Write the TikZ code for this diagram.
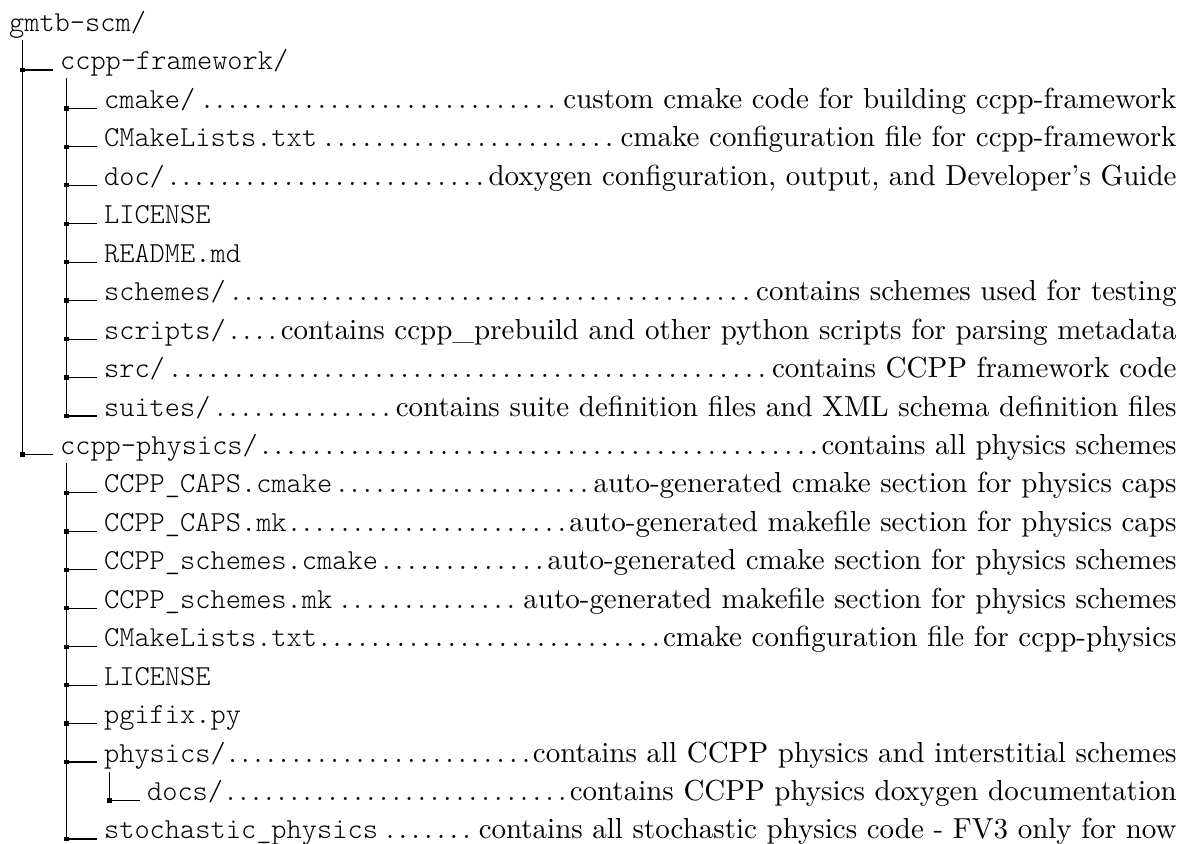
\documentclass[tikz,border=0pt]{standalone}
\usepackage{fontspec}
\setmonofont{lmmonolt10-regular.otf}
\usepackage{tikz}
\usetikzlibrary{calc}

\begin{document}
\begin{tikzpicture}[x=0.345pt,y=-0.345pt,
  branch/.style={line width=0.4pt,shorten >=2.4pt},
  stem/.style={line width=0.4pt},
  jdot/.style={rectangle,fill,inner sep=0pt,minimum size=1.5pt},
  entry/.style={anchor=base west,inner sep=0pt,text width=#1},
  item/.style={anchor=base west,inner sep=0pt,font=\ttfamily}]
  \useasboundingbox (0,0) rectangle (1180,843);
  % Root folder
  \node[item] (root) at (8.5,31.5) {gmtb-scm/};
  \coordinate (root-top) at (22.5,40);
  % ccpp-framework
  \node[item] (fw) at (59.5,69.95) {ccpp-framework/};
  \node[jdot] (j-fw) at ($(fw.base west)+(-37,0)$) {};
  \draw[branch] (j-fw.center) -- (fw.base west);
  \coordinate (fw-top) at (66.5,78);
  % framework contents
  \node[entry=370pt] (fw-cmake) at (103.5,108.4) {\texttt{cmake/}\dotfill custom cmake code for building ccpp-framework};
  \node[entry=370pt] (fw-lists) at (103.5,146.85) {\texttt{CMakeLists.txt}\dotfill cmake configuration file for ccpp-framework};
  \node[entry=370pt] (fw-doc) at (103.5,185.3) {\texttt{doc/}\dotfill doxygen configuration, output, and Developer's Guide};
  \node[item] (fw-license) at (103.5,223.75) {LICENSE};
  \node[item] (fw-readme) at (103.5,262.2) {README.md};
  \node[entry=370pt] (fw-schemes) at (103.5,300.65) {\texttt{schemes/}\dotfill contains schemes used for testing};
  \node[entry=370pt] (fw-scripts) at (103.5,339.1) {\texttt{scripts/}\dotfill contains ccpp\_prebuild and other python scripts for parsing metadata};
  \node[entry=370pt] (fw-src) at (103.5,377.55) {\texttt{src/}\dotfill contains CCPP framework code};
  \node[entry=370pt] (fw-suites) at (103.5,416) {\texttt{suites/}\dotfill contains suite definition files and XML schema definition files};
  \foreach \n in {fw-cmake,fw-lists,fw-doc,fw-license,fw-readme,fw-schemes,fw-scripts,fw-src,fw-suites} {
    \node[jdot] (j-\n) at ($(\n.base west)+(-37,0)$) {};
    \draw[branch] (j-\n.center) -- (\n.base west);
  }
  \draw[stem] (fw-top) -- (j-fw-suites.center);
  % ccpp-physics
  \node[entry=385.2pt] (ph) at (59.5,454.45) {\texttt{ccpp-physics/}\dotfill contains all physics schemes};
  \node[jdot] (j-ph) at ($(ph.base west)+(-37,0)$) {};
  \draw[branch] (j-ph.center) -- (ph.base west);
  \draw[stem] (root-top) -- (j-ph.center);
  \coordinate (ph-top) at (66.5,463);
  % physics contents
  \node[entry=370pt] (ph-capscm) at (103.5,492.9) {\texttt{CCPP\_CAPS.cmake}\dotfill auto-generated cmake section for physics caps};
  \node[entry=370pt] (ph-capsmk) at (103.5,531.35) {\texttt{CCPP\_CAPS.mk}\dotfill auto-generated makefile section for physics caps};
  \node[entry=370pt] (ph-schcm) at (103.5,569.8) {\texttt{CCPP\_schemes.cmake}\dotfill auto-generated cmake section for physics schemes};
  \node[entry=370pt] (ph-schmk) at (103.5,608.25) {\texttt{CCPP\_schemes.mk}\dotfill auto-generated makefile section for physics schemes};
  \node[entry=370pt] (ph-lists) at (103.5,646.7) {\texttt{CMakeLists.txt}\dotfill cmake configuration file for ccpp-physics};
  \node[item] (ph-license) at (103.5,685.15) {LICENSE};
  \node[item] (ph-pgifix) at (103.5,723.6) {pgifix.py};
  \node[entry=370pt] (ph-physics) at (103.5,762.05) {\texttt{physics/}\dotfill contains all CCPP physics and interstitial schemes};
  \node[entry=370pt] (ph-stoch) at (103.5,838.95) {\texttt{stochastic\_physics}\dotfill contains all stochastic physics code - FV3 only for now};
  \foreach \n in {ph-capscm,ph-capsmk,ph-schcm,ph-schmk,ph-lists,ph-license,ph-pgifix,ph-physics,ph-stoch} {
    \node[jdot] (j-\n) at ($(\n.base west)+(-37,0)$) {};
    \draw[branch] (j-\n.center) -- (\n.base west);
  }
  \draw[stem] (ph-top) -- (j-ph-stoch.center);
  % physics/docs
  \node[entry=355.2pt] (ph-docs) at (146.5,800.5) {\texttt{docs/}\dotfill contains CCPP physics doxygen documentation};
  \node[jdot] (j-ph-docs) at ($(ph-docs.base west)+(-37,0)$) {};
  \draw[branch] (j-ph-docs.center) -- (ph-docs.base west);
  \coordinate (phys-top) at (109.5,772);
  \draw[stem] (phys-top) -- (j-ph-docs.center);
\end{tikzpicture}
\end{document}
